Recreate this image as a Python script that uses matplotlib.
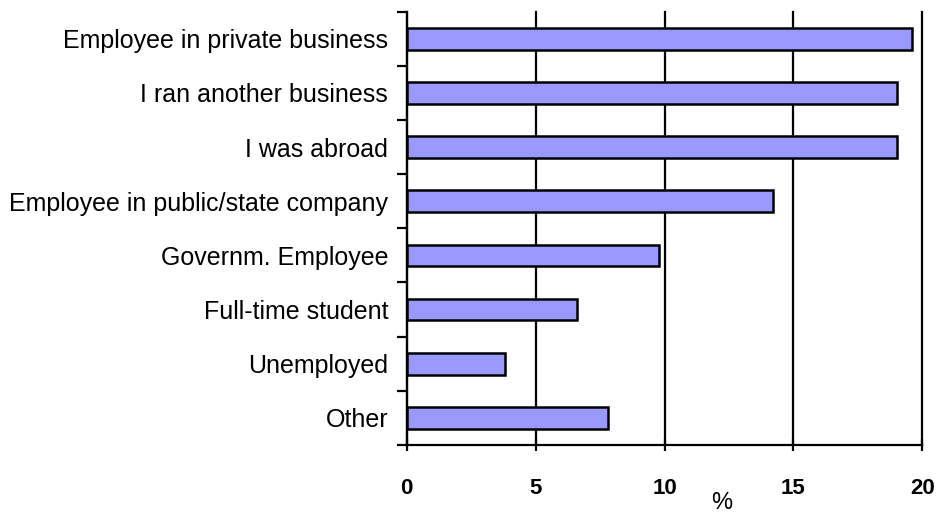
import matplotlib.pyplot as plt
import numpy as np

plt.rcParams['font.family'] = ['Liberation Sans', 'DejaVu Sans']

categories = [
    "Employee in private business",
    "I ran another business",
    "I was abroad",
    "Employee in public/state company",
    "Governm. Employee",
    "Full-time student",
    "Unemployed",
    "Other",
]
shares = [19.6, 19.0, 19.0, 14.2, 9.8, 6.6, 3.8, 7.8]
x_ticks = [0, 5, 10, 15, 20]

fig = plt.figure(figsize=(9.46, 5.12), dpi=100)
ax = fig.add_axes([0.430, 0.131, 0.545, 0.846])

pos = np.arange(len(categories))
ax.barh(pos, shares, height=0.4, color='#9999FF', edgecolor='black', linewidth=1.8, zorder=3)

ax.set_xlim(0, 20)
ax.set_ylim(len(categories) - 0.5, -0.5)

# vertical grid lines at each major x tick
ax.set_xticks(x_ticks)
ax.set_xticklabels([str(t) for t in x_ticks], fontweight='bold', fontsize=16)
ax.grid(axis='x', color='black', linewidth=1.6, zorder=1)
for gl in ax.xaxis.get_gridlines():
    gl.set_clip_on(False)
ax.tick_params(axis='x', direction='inout', length=8, width=1.6, pad=20)

# category labels sit between the boundary ticks
ax.set_yticks(pos)
ax.set_yticklabels(categories, fontsize=18)
ax.tick_params(axis='y', which='major', length=0, pad=13.5)
ax.set_yticks(np.arange(-0.5, len(categories)), minor=True)
ax.tick_params(axis='y', which='minor', direction='out', length=7, width=1.6)

for side in ['top', 'right']:
    ax.spines[side].set_visible(False)
for side in ['left', 'bottom']:
    ax.spines[side].set_linewidth(1.6)

ax.set_xlabel("%", fontsize=17, va='center')
ax.xaxis.set_label_coords(0.610, -0.133)

fig.savefig("out.png", dpi=100)
